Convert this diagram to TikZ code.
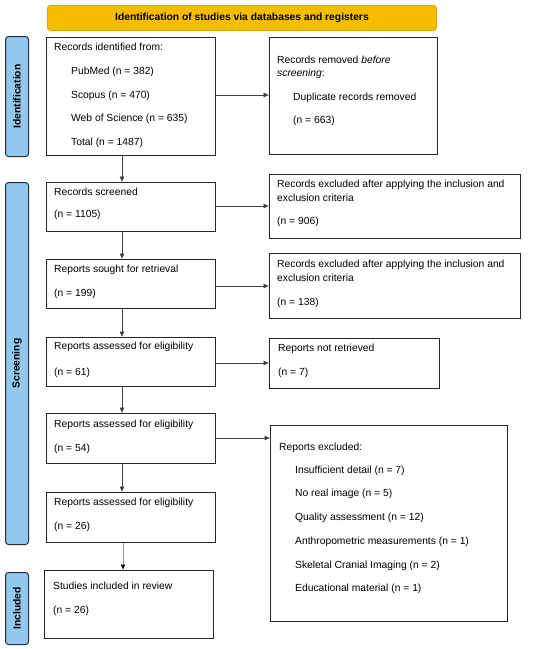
\documentclass[tikz,border=0pt]{standalone}
\usepackage{fontspec}
\setmainfont{Liberation Sans}
\usetikzlibrary{arrows.meta}
\definecolor{bannerfill}{HTML}{F6BC00}
\definecolor{bannerdraw}{HTML}{DDA500}
\definecolor{sidefill}{HTML}{92C8EC}
\definecolor{sidedraw}{HTML}{22303E}
\tikzset{
  box/.style={draw=black!85, line width=1pt, anchor=north west, inner sep=0pt},
  txt/.style={anchor=mid west, inner sep=0pt, font=\fontsize{10.3}{12}\selectfont},
  side/.style={draw=sidedraw, fill=sidefill, line width=1pt, rounded corners=3pt, anchor=north west, inner sep=0pt},
  sidetxt/.style={rotate=90, font=\bfseries\fontsize{10.3}{12}\selectfont, inner sep=0pt},
  arr/.style={draw=black!75, line width=0.6pt, -{Latex[length=5.5pt,width=5pt]}},
  grayarr/.style={draw=black!40, line width=0.9pt, -{Latex[length=5.5pt,width=5pt,color=black]}},
}
\begin{document}
\begin{tikzpicture}[x=1pt,y=-1pt]
\useasboundingbox (0,0) rectangle (550,649);
% banner
\node[draw=bannerdraw, fill=bannerfill, line width=0.9pt, rounded corners=3pt, anchor=north west, minimum width=389pt, minimum height=25pt, inner sep=0pt] (banner) at (47,5) {};
\node[font=\bfseries\fontsize{10.3}{12}\selectfont, inner sep=0pt] (bannertxt) at (banner.center) {Identification of studies via databases and registers};
% side labels
\node[side, minimum width=23pt, minimum height=120pt] (sid) at (5,36) {};
\node[sidetxt] (sidt) at (sid.center) {Identification};
\node[side, minimum width=23pt, minimum height=362pt] (ssc) at (5,182) {};
\node[sidetxt] (ssct) at (ssc.center) {Screening};
\node[side, minimum width=23pt, minimum height=72pt] (sin) at (5,572) {};
\node[sidetxt] (sint) at (sin.center) {Included};
% left column boxes
\node[box, minimum width=169pt, minimum height=118pt] (b1) at (46,37) {};
\node[txt] (b1a) at (54,48) {Records identified from:};
\node[txt] (b1b) at (71,72) {PubMed (n = 382)};
\node[txt] (b1c) at (71,96) {Scopus (n = 470)};
\node[txt] (b1d) at (71,119) {Web of Science (n = 635)};
\node[txt] (b1e) at (71,143) {Total (n = 1487)};
\node[box, minimum width=169pt, minimum height=49pt] (b2) at (46,182) {};
\node[txt] (b2a) at (54,193) {Records screened};
\node[txt] (b2b) at (54,215) {(n = 1105)};
\node[box, minimum width=169pt, minimum height=49pt] (b3) at (46,259) {};
\node[txt] (b3a) at (54,270) {Reports sought for retrieval};
\node[txt] (b3b) at (54,294) {(n = 199)};
\node[box, minimum width=169pt, minimum height=49pt] (b4) at (46,337) {};
\node[txt] (b4a) at (54,347) {Reports assessed for eligibility};
\node[txt] (b4b) at (54,373) {(n = 61)};
\node[box, minimum width=169pt, minimum height=50pt] (b5) at (46,413) {};
\node[txt] (b5a) at (54,425) {Reports assessed for eligibility};
\node[txt] (b5b) at (54,449) {(n = 54)};
\node[box, minimum width=169pt, minimum height=50pt] (b6) at (46,492) {};
\node[txt] (b6a) at (54,503) {Reports assessed for eligibility};
\node[txt] (b6b) at (54,527) {(n = 26)};
\node[box, minimum width=169pt, minimum height=68pt] (b7) at (44,570) {};
\node[txt] (b7a) at (53,587) {Studies included in review};
\node[txt] (b7b) at (53,611) {(n = 26)};
% right column boxes
\node[box, minimum width=168pt, minimum height=117pt] (r1) at (269,37) {};
\node[txt] (r1a) at (277,61) {Records removed \textit{before}};
\node[txt] (r1b) at (277,74) {\textit{screening}:};
\node[txt] (r1c) at (293,98) {Duplicate records removed};
\node[txt] (r1d) at (293,121) {(n = 663)};
\node[box, minimum width=251pt, minimum height=64pt] (r2) at (269,174) {};
\node[txt] (r2a) at (277,185) {Records excluded after applying the inclusion and};
\node[txt] (r2b) at (277,199) {exclusion criteria};
\node[txt] (r2c) at (277,222) {(n = 906)};
\node[box, minimum width=251pt, minimum height=65pt] (r3) at (269,253) {};
\node[txt] (r3a) at (277,265) {Records excluded after applying the inclusion and};
\node[txt] (r3b) at (277,279) {exclusion criteria};
\node[txt] (r3c) at (277,303) {(n = 138)};
\node[box, minimum width=170pt, minimum height=50pt] (r4) at (269,338) {};
\node[txt] (r4a) at (278,349) {Reports not retrieved};
\node[txt] (r4b) at (278,373) {(n = 7)};
\node[box, minimum width=237pt, minimum height=196pt] (r5) at (270,425) {};
\node[txt] (r5a) at (279,448) {Reports excluded:};
\node[txt] (r5b) at (295,471) {Insufficient detail (n = 7)};
\node[txt] (r5c) at (295,494) {No real image (n = 5)};
\node[txt] (r5d) at (295,518) {Quality assessment (n = 12)};
\node[txt] (r5e) at (295,542) {Anthropometric measurements (n = 1)};
\node[txt] (r5f) at (295,566) {Skeletal Cranial Imaging (n = 2)};
\node[txt] (r5g) at (295,589) {Educational material (n = 1)};
% arrows right
\draw[arr] (b1.east |- 0,95) -- (r1.west |- 0,95);
\draw[arr] (b2.east |- 0,206) -- (r2.west |- 0,206);
\draw[arr] (b3.east |- 0,286) -- (r3.west |- 0,286);
\draw[arr] (b4.east |- 0,363) -- (r4.west |- 0,363);
\draw[arr] (b5.east |- 0,438) -- (r5.west |- 0,438);
% arrows down
\draw[arr] (b1.south -| 122,0) -- (b2.north -| 122,0);
\draw[arr] (b2.south -| 122,0) -- (b3.north -| 122,0);
\draw[arr] (b3.south -| 122,0) -- (b4.north -| 122,0);
\draw[arr] (b4.south -| 122,0) -- (b5.north -| 122,0);
\draw[arr] (b5.south -| 122,0) -- (b6.north -| 122,0);
\draw[grayarr] (b6.south -| 123,0) -- (b7.north -| 123,0);
\end{tikzpicture}
\end{document}
